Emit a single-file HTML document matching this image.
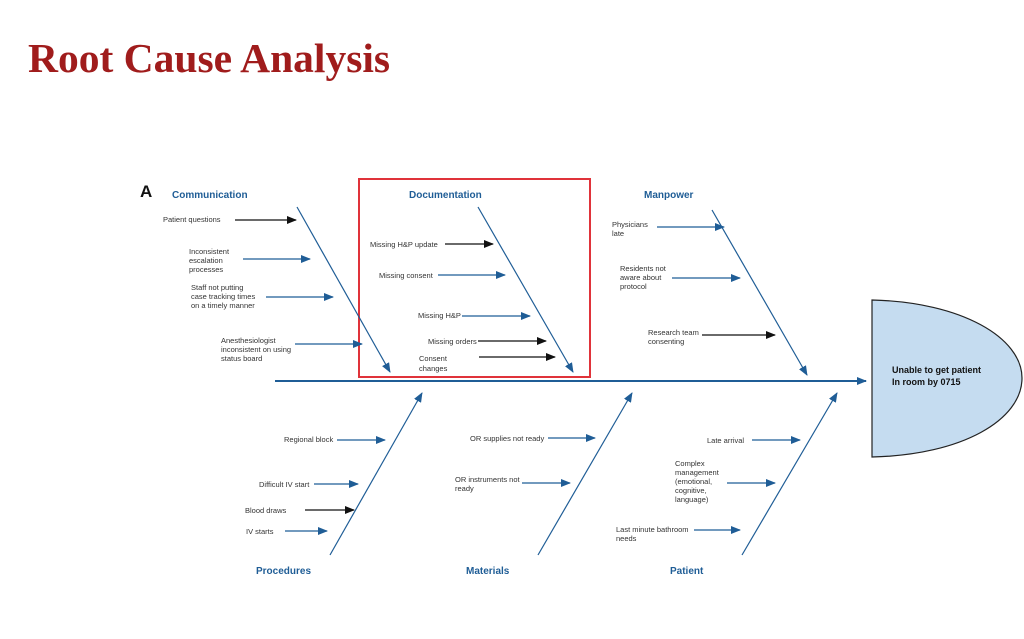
<!DOCTYPE html>
<html><head><style>
body{margin:0;background:#fff;width:1024px;height:634px;overflow:hidden}
svg text{font-family:"Liberation Sans",sans-serif}
</style></head><body>
<svg width="1024" height="634" xmlns="http://www.w3.org/2000/svg">
<defs>
<marker id="b" markerWidth="10" markerHeight="8" refX="9" refY="4" orient="auto" markerUnits="userSpaceOnUse"><path d="M0,0 L10,4 L0,8 Z" fill="#1f5d96"/></marker>
<marker id="k" markerWidth="10" markerHeight="8" refX="9" refY="4" orient="auto" markerUnits="userSpaceOnUse"><path d="M0,0 L10,4 L0,8 Z" fill="#111"/></marker>
</defs>
<text x="28" y="72" font-weight="bold" font-size="41.5" fill="#a01c1c" style="font-family:'Liberation Serif',serif">Root Cause Analysis</text>
<text x="140" y="197" font-size="17" font-weight="bold" fill="#111">A</text>
<g font-size="10" font-weight="bold" fill="#1f5d96">
<text x="172" y="198">Communication</text>
<text x="409" y="198">Documentation</text>
<text x="644" y="198">Manpower</text>
<text x="256" y="574">Procedures</text>
<text x="466" y="574">Materials</text>
<text x="670" y="574">Patient</text>
</g>
<rect x="359" y="179" width="231" height="198" fill="none" stroke="#e0333a" stroke-width="2"/>
<path d="M872,300 C962,302 1022,338 1022,378 C1022,420 962,455 872,457 Z" fill="#c5dcf0" stroke="#222" stroke-width="1.2"/>
<text x="892" y="373" font-size="9" font-weight="bold" fill="#111">Unable to get patient</text>
<text x="892" y="385" font-size="9" font-weight="bold" fill="#111">In room by 0715</text>
<g stroke="#1f5d96" fill="none">
<line x1="275" y1="381" x2="866" y2="381" stroke-width="2" marker-end="url(#b)"/>
<g stroke-width="1.2" marker-end="url(#b)">
<line x1="297" y1="207" x2="390" y2="372"/>
<line x1="478" y1="207" x2="573" y2="372"/>
<line x1="712" y1="210" x2="807" y2="375"/>
<line x1="330" y1="555" x2="422" y2="393"/>
<line x1="538" y1="555" x2="632" y2="393"/>
<line x1="742" y1="555" x2="837" y2="393"/>
<line x1="243" y1="259" x2="310" y2="259"/>
<line x1="266" y1="297" x2="333" y2="297"/>
<line x1="295" y1="344" x2="362" y2="344"/>
<line x1="438" y1="275" x2="505" y2="275"/>
<line x1="462" y1="316" x2="530" y2="316"/>
<line x1="657" y1="227" x2="724" y2="227"/>
<line x1="672" y1="278" x2="740" y2="278"/>
<line x1="337" y1="440" x2="385" y2="440"/>
<line x1="314" y1="484" x2="358" y2="484"/>
<line x1="285" y1="531" x2="327" y2="531"/>
<line x1="548" y1="438" x2="595" y2="438"/>
<line x1="522" y1="483" x2="570" y2="483"/>
<line x1="752" y1="440" x2="800" y2="440"/>
<line x1="727" y1="483" x2="775" y2="483"/>
<line x1="694" y1="530" x2="740" y2="530"/>
</g>
</g>
<g stroke="#111" stroke-width="1.2" marker-end="url(#k)">
<line x1="235" y1="220" x2="296" y2="220"/>
<line x1="445" y1="244" x2="493" y2="244"/>
<line x1="478" y1="341" x2="546" y2="341"/>
<line x1="479" y1="357" x2="555" y2="357"/>
<line x1="702" y1="335" x2="775" y2="335"/>
<line x1="305" y1="510" x2="354" y2="510"/>
</g>
<g font-size="7.5" fill="#333">
<text x="163" y="222">Patient questions</text>
<text x="189" y="254">Inconsistent</text><text x="189" y="263">escalation</text><text x="189" y="272">processes</text>
<text x="191" y="290">Staff not putting</text><text x="191" y="299">case tracking times</text><text x="191" y="308">on a timely manner</text>
<text x="221" y="343">Anesthesiologist</text><text x="221" y="352">inconsistent on using</text><text x="221" y="361">status board</text>
<text x="370" y="247">Missing H&amp;P update</text>
<text x="379" y="278">Missing consent</text>
<text x="418" y="318">Missing H&amp;P</text>
<text x="428" y="344">Missing orders</text>
<text x="419" y="361">Consent</text><text x="419" y="371">changes</text>
<text x="612" y="227">Physicians</text><text x="612" y="236">late</text>
<text x="620" y="271">Residents not</text><text x="620" y="280">aware about</text><text x="620" y="289">protocol</text>
<text x="648" y="335">Research team</text><text x="648" y="344">consenting</text>
<text x="284" y="442">Regional block</text>
<text x="259" y="487">Difficult IV start</text>
<text x="245" y="513">Blood draws</text>
<text x="246" y="534">IV starts</text>
<text x="470" y="441">OR supplies not ready</text>
<text x="455" y="482">OR instruments not</text><text x="455" y="491">ready</text>
<text x="707" y="443">Late arrival</text>
<text x="675" y="466">Complex</text><text x="675" y="475">management</text><text x="675" y="484">(emotional,</text><text x="675" y="493">cognitive,</text><text x="675" y="502">language)</text>
<text x="616" y="532">Last minute bathroom</text><text x="616" y="541">needs</text>
</g>
</svg>
</body></html>
